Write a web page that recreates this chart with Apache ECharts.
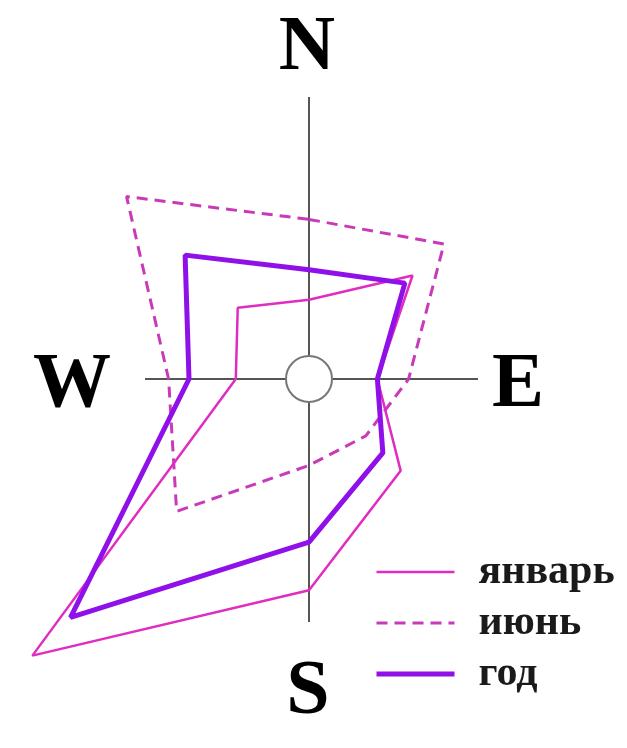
<!doctype html>
<html>
<head>
<meta charset="UTF-8">
<title>Роза ветров</title>
<script src="https://cdn.jsdelivr.net/npm/echarts@6/dist/echarts.min.js"></script>
<style>
  html, body { margin: 0; padding: 0; background: #fff; }
  #main { width: 627px; height: 748px; }
</style>
</head>
<body>
<div id="main"></div>
<script type="text/javascript">
// направления (градусы по часовой от севера) и повторяемость ветра, %
var directions = ['N', 'NE', 'E', 'SE', 'S', 'SW', 'W', 'NW'];
var angles = [0, 45, 90, 135, 180, 225, 270, 315];
var january = [6.6, 12.2, 5.7, 10.8, 17.6, 32.6, 6.1, 8.4];
var june = [13.3, 15.9, 8.3, 6.7, 7.2, 15.6, 11.7, 21.5];
var year = [9.1, 11.3, 5.7, 8.7, 13.6, 28.1, 10.0, 14.6];
var seriesNames = ['январь', 'июнь', 'год'];

// замкнутый контур: [радиус, угол]
function ring(values) {
    var pts = values.map(function (v, i) { return [v, angles[i]]; });
    pts.push([values[0], 360]);
    return pts;
}

var cx = 309, cy = 379;
var serif = '"Liberation Serif", "DejaVu Serif", serif';
var lineWidths = [2.5, 3, 5];

var myChart = echarts.init(document.getElementById('main'));
var option = {
    animation: false,
    polar: { center: [cx, cy], radius: 420 },
    angleAxis: {
        type: 'value', min: 0, max: 360, startAngle: 90, clockwise: true,
        show: false
    },
    radiusAxis: { type: 'value', min: 0, max: 35, show: false },
    legend: {
        orient: 'vertical',
        left: 369,
        top: 546,
        itemWidth: 78,
        itemHeight: 14,
        itemGap: 9,
        itemStyle: { opacity: 0 },
        data: seriesNames.map(function (n, i) {
            return { name: n, lineStyle: { width: lineWidths[i] } };
        }),
        textStyle: {
            fontFamily: serif, fontWeight: 'bold', fontSize: 42,
            color: '#1a1a1a', lineHeight: 40, padding: [0, 0, 0, 19]
        }
    },
    graphic: [
        // оси и центральный круг
        { type: 'line', shape: { x1: cx, y1: 97, x2: cx, y2: 622 }, style: { stroke: '#555', lineWidth: 2 }, z: 1 },
        { type: 'line', shape: { x1: 145, y1: cy, x2: 478, y2: cy }, style: { stroke: '#555', lineWidth: 2 }, z: 1 },
        { type: 'circle', shape: { cx: cx, cy: cy, r: 23 }, style: { fill: '#fff', stroke: '#777', lineWidth: 2 }, z: 2 },
        { type: 'text', x: 307, y: 49, style: { text: 'N', font: 'bold 78px ' + serif, fill: '#000', textAlign: 'center', textVerticalAlign: 'middle' } },
        { type: 'text', x: 72, y: 386, style: { text: 'W', font: 'bold 78px ' + serif, fill: '#000', textAlign: 'center', textVerticalAlign: 'middle' } },
        { type: 'text', x: 518, y: 386, style: { text: 'E', font: 'bold 78px ' + serif, fill: '#000', textAlign: 'center', textVerticalAlign: 'middle' } },
        { type: 'text', x: 308, y: 693, style: { text: 'S', font: 'bold 78px ' + serif, fill: '#000', textAlign: 'center', textVerticalAlign: 'middle' } }
    ],
    series: [
        {
            name: seriesNames[0], type: 'line', coordinateSystem: 'polar',
            data: ring(january), symbol: 'none', z: 4,
            lineStyle: { color: '#e02cc0', width: lineWidths[0] }, itemStyle: { color: '#e02cc0' }
        },
        {
            name: seriesNames[1], type: 'line', coordinateSystem: 'polar',
            data: ring(june), symbol: 'none', z: 3,
            lineStyle: { color: '#c83ab8', width: lineWidths[1], type: [11, 7] }, itemStyle: { color: '#c83ab8' }
        },
        {
            name: seriesNames[2], type: 'line', coordinateSystem: 'polar',
            data: ring(year), symbol: 'none', z: 5,
            lineStyle: { color: '#8f10e8', width: lineWidths[2] }, itemStyle: { color: '#8f10e8' }
        }
    ]
};
myChart.setOption(option);
</script>
</body>
</html>
